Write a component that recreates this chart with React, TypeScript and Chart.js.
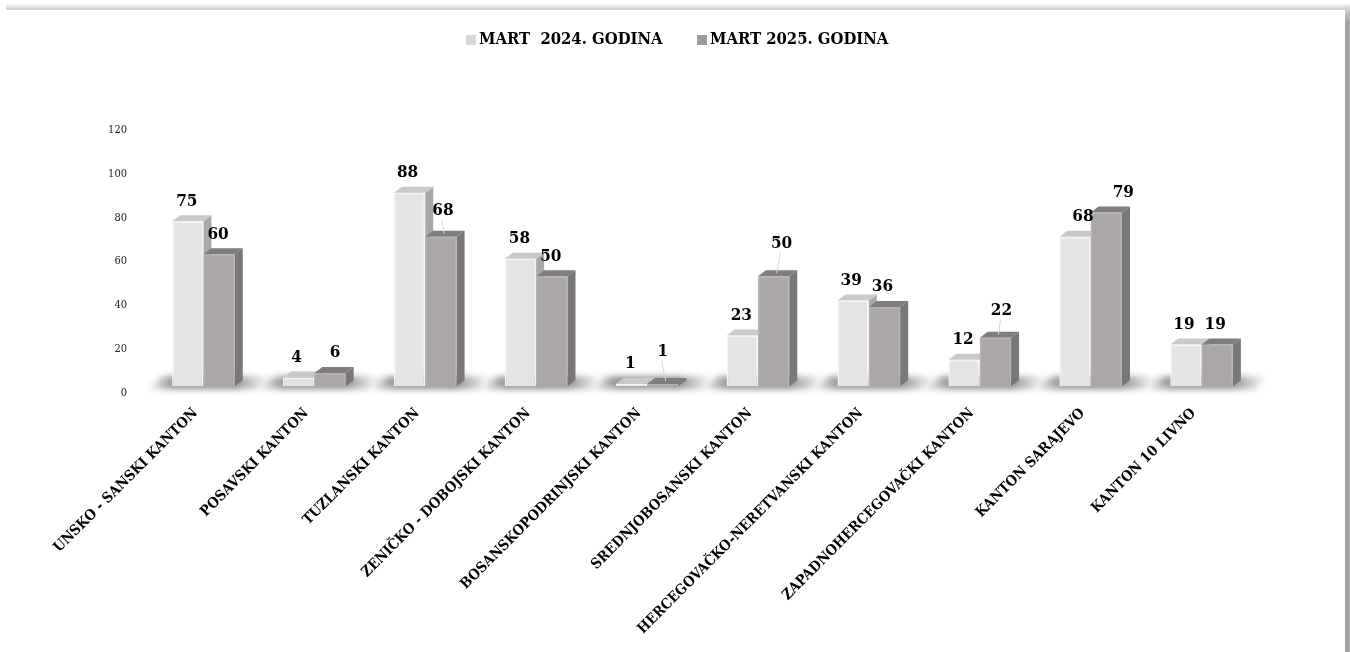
import React, { useEffect, useRef } from "react";
import { Chart, registerables } from "chart.js";

Chart.register(...registerables);

const categories = [
  "UNSKO - SANSKI KANTON",
  "POSAVSKI KANTON",
  "TUZLANSKI KANTON",
  "ZENIČKO - DOBOJSKI KANTON",
  "BOSANSKOPODRINJSKI KANTON",
  "SREDNJOBOSANSKI KANTON",
  "HERCEGOVAČKO-NERETVANSKI KANTON",
  "ZAPADNOHERCEGOVAČKI KANTON",
  "KANTON SARAJEVO",
  "KANTON 10 LIVNO",
];
const mart2024 = [75, 4, 88, 58, 1, 23, 39, 12, 68, 19];
const mart2025 = [60, 6, 68, 50, 1, 50, 36, 22, 79, 19];
const seriesNames = ["MART  2024. GODINA", "MART 2025. GODINA"];

const FONT = '"DejaVu Serif Condensed", "DejaVu Serif"';
const DX = 8;
const DY = -6;
const styles = [
  { top: "#c9c9c9", side: "#a8a8a8", legend: "#d8d8d8" },
  { top: "#7f7d7d", side: "#797777", legend: "#9c9a9a" },
];
// hand-placed data label shifts [dx, dy], as in the source chart
const labelShift: [number, number][][] = [
  [[-1, 0], [-2, 0], [-2, 0], [-1, 0], [-1, 0], [-1, 0], [-2, 0], [-1, 0], [8, 0], [-2, 0]],
  [[-1, 0], [5, 0], [2, -6], [-1, 0], [0, -12], [8, -13], [-2, 0], [6, -7], [17, 0], [-2, 0]],
];

function drawDepth(ctx: CanvasRenderingContext2D, bar: any, s: { top: string; side: string }) {
  const l = bar.x - bar.width / 2;
  const r = bar.x + bar.width / 2;
  const t = bar.y;
  const b = bar.base;
  ctx.fillStyle = s.side;
  ctx.beginPath();
  ctx.moveTo(r, t);
  ctx.lineTo(r + DX, t + DY);
  ctx.lineTo(r + DX, b + DY);
  ctx.lineTo(r, b);
  ctx.closePath();
  ctx.fill();
  ctx.fillStyle = s.top;
  ctx.beginPath();
  ctx.moveTo(l, t);
  ctx.lineTo(l + DX, t + DY);
  ctx.lineTo(r + DX, t + DY);
  ctx.lineTo(r, t);
  ctx.closePath();
  ctx.fill();
}

const frame3d = {
  id: "frame3d",
  beforeDraw(chart: any) {
    const { ctx, width, height } = chart;
    ctx.save();
    ctx.fillStyle = "#ffffff";
    ctx.fillRect(0, 0, width, height);
    const h = ctx.createLinearGradient(0, 3, 0, 10);
    h.addColorStop(0, "rgba(205,205,205,0)");
    h.addColorStop(1, "rgba(205,205,205,1)");
    ctx.fillStyle = h;
    ctx.fillRect(6, 3, width - 6, 7);
    const v = ctx.createLinearGradient(0, 6, 0, 22);
    v.addColorStop(0, "#dddddd");
    v.addColorStop(1, "#a4a4a4");
    ctx.fillStyle = v;
    ctx.fillRect(1345, 6, 5, height - 6);
    ctx.restore();
  },
};

const bars3d = {
  id: "bars3d",
  beforeDatasetsDraw(chart: any) {
    const { ctx } = chart;
    const a = chart.getDatasetMeta(0).data;
    const c = chart.getDatasetMeta(1).data;
    ctx.save();
    ctx.filter = "blur(3px)";
    a.forEach((bar: any, i: number) => {
      const mid = (bar.x + c[i].x) / 2;
      const g = ctx.createLinearGradient(mid - 58, 0, mid + 66, 0);
      g.addColorStop(0, "rgba(140,140,140,0)");
      g.addColorStop(0.22, "rgba(140,140,140,0.95)");
      g.addColorStop(0.72, "rgba(140,140,140,0.95)");
      g.addColorStop(1, "rgba(140,140,140,0)");
      ctx.fillStyle = g;
      ctx.beginPath();
      ctx.moveTo(mid - 58, bar.base + 3);
      ctx.lineTo(mid - 40, bar.base - 10);
      ctx.lineTo(mid + 66, bar.base - 10);
      ctx.lineTo(mid + 54, bar.base + 3);
      ctx.closePath();
      ctx.fill();
    });
    ctx.restore();
  },
  beforeDatasetDraw(chart: any, args: any) {
    // the first series is painted last by Chart.js, so its depth goes on here
    if (args.index === 0) {
      chart.getDatasetMeta(0).data.forEach((bar: any) => drawDepth(chart.ctx, bar, styles[0]));
    }
  },
  afterDatasetDraw(chart: any, args: any) {
    // the second series stands in front of the first one's side faces
    if (args.index === 0) {
      chart.getDatasetMeta(1).data.forEach((bar: any) => {
        drawDepth(chart.ctx, bar, styles[1]);
        bar.draw(chart.ctx);
      });
    }
  },
  afterDatasetsDraw(chart: any) {
    const { ctx } = chart;
    ctx.save();
    ctx.font = `bold 17px ${FONT}`;
    ctx.textAlign = "center";
    ctx.textBaseline = "middle";
    chart.data.datasets.forEach((ds: any, d: number) => {
      chart.getDatasetMeta(d).data.forEach((bar: any, i: number) => {
        const [sx, sy] = labelShift[d][i];
        const x = bar.x + sx;
        const y = bar.y - 20 + sy;
        if (sy <= -6) {
          ctx.strokeStyle = "#d9d9d9";
          ctx.lineWidth = 1;
          ctx.beginPath();
          ctx.moveTo(x - 1, y + 9);
          ctx.lineTo(bar.x + 3, bar.y - 3);
          ctx.stroke();
        }
        ctx.fillStyle = "#000000";
        ctx.fillText(String(ds.data[i]), x, y);
      });
    });
    ctx.restore();
  },
  afterDraw(chart: any) {
    const { ctx } = chart;
    ctx.save();
    ctx.font = `bold 16.5px ${FONT}`;
    ctx.textBaseline = "middle";
    ctx.textAlign = "left";
    const starts = [466, 697];
    chart.data.datasets.forEach((ds: any, d: number) => {
      ctx.fillStyle = styles[d].legend;
      ctx.fillRect(starts[d], 35, 10, 10);
      ctx.fillStyle = "#000000";
      ctx.fillText(ds.label, starts[d] + 13, 40);
    });
    ctx.restore();
  },
};

export default function App() {
  const ref = useRef<HTMLCanvasElement | null>(null);
  useEffect(() => {
    if (!ref.current) return;
    const chart = new Chart(ref.current, {
      type: "bar",
      data: {
        labels: categories,
        datasets: [
          {
            label: seriesNames[0],
            data: mart2024,
            backgroundColor: "#e4e4e4",
            borderColor: "#f4f4f4",
            borderWidth: 1.5,
            yAxisID: "bars",
          },
          {
            label: seriesNames[1],
            data: mart2025,
            backgroundColor: "#aba7a6",
            borderColor: "#b6b3b2",
            borderWidth: 1.5,
            yAxisID: "bars",
          },
        ],
      },
      options: {
        responsive: false,
        animation: false,
        layout: { padding: { top: 130, right: 93, left: 0, bottom: 0 } },
        plugins: { legend: { display: false }, tooltip: { enabled: false } },
        datasets: { bar: { categoryPercentage: 0.565, barPercentage: 1 } },
        scales: {
          x: {
            grid: { display: false },
            border: { display: false },
            afterFit(scale: any) {
              scale.height = 259;
            },
            ticks: {
              autoSkip: false,
              minRotation: 45,
              maxRotation: 45,
              padding: 4,
              labelOffset: -8,
              color: "#000000",
              font: { family: FONT, size: 14.4, weight: "bold" },
            },
          },
          y: {
            min: 0,
            max: 120,
            grid: { display: false },
            border: { display: false },
            afterFit(scale: any) {
              scale.width = 148;
            },
            ticks: {
              stepSize: 20,
              padding: 13,
              color: "#222222",
              font: { family: FONT, size: 11 },
            },
          },
          bars: {
            display: false,
            min: -3.1,
            max: 116.5,
          },
        },
      },
      plugins: [frame3d, bars3d],
    } as any);
    return () => chart.destroy();
  }, []);
  return (
    <canvas
      ref={ref}
      width={1350}
      height={652}
      style={{ position: "fixed", left: 0, top: 0, display: "block" }}
    />
  );
}
